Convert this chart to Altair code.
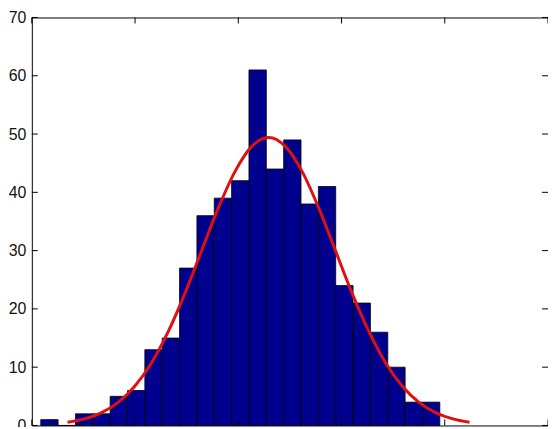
import altair as alt
import pandas as pd

# Histogram counts (23 equal bins)
bin_counts = [1, 0, 2, 2, 5, 6, 13, 15, 27, 36, 39, 42, 61, 44, 49, 38, 41, 24, 21, 16, 10, 4, 4]
bin_start = 0.0865
bin_width = 0.16807

# Fitted curve points
curve_x = [0.346, 0.508, 0.671, 0.833, 0.995, 1.157, 1.320, 1.482, 1.644, 1.806, 1.969, 2.131,
           2.293, 2.455, 2.618, 2.780, 2.942, 3.104, 3.267, 3.429, 3.591, 3.753, 3.916, 4.078, 4.240]
curve_y = [0.55, 1.13, 2.17, 3.93, 6.69, 10.68, 16.04, 22.62, 29.96, 37.29, 43.60, 47.88,
           49.40, 47.88, 43.60, 37.29, 29.96, 22.62, 16.04, 10.68, 6.69, 3.93, 2.17, 1.13, 0.55]

x_ticks = [0, 1, 2, 3, 4, 5]
y_ticks = [0, 10, 20, 30, 40, 50, 60, 70]

W, H = 520, 411
TICK = 6

bars = pd.DataFrame({
    "x0": [bin_start + i * bin_width for i in range(len(bin_counts))],
    "x1": [bin_start + (i + 1) * bin_width for i in range(len(bin_counts))],
    "count": bin_counts,
})
curve = pd.DataFrame({"x": curve_x, "y": curve_y})
xt = pd.DataFrame({"t": x_ticks})
yt = pd.DataFrame({"t": y_ticks})

xscale = alt.Scale(domain=[0, 5], nice=False, zero=False)
yscale = alt.Scale(domain=[0, 70], nice=False)

bar_layer = alt.Chart(bars).mark_bar(
    color="#00008F", stroke="#000000", strokeWidth=0.8
).encode(
    x=alt.X("x0:Q", scale=xscale,
            axis=alt.Axis(labels=False, ticks=False, domain=False, grid=False, title=None,
                          values=x_ticks)),
    x2="x1:Q",
    y=alt.Y("count:Q", scale=yscale,
            axis=alt.Axis(values=y_ticks, ticks=False, tickSize=0, domain=False, grid=False,
                          title=None, labelFont="Liberation Sans", labelFontSize=16,
                          labelColor="#111111", labelPadding=6)),
    y2=alt.datum(0),
)

line_layer = alt.Chart(curve).mark_line(
    color="#E01010", strokeWidth=3, interpolate="monotone"
).encode(
    x=alt.X("x:Q", scale=xscale),
    y=alt.Y("y:Q", scale=yscale),
)

left_ticks = alt.Chart(yt).mark_rule(color="black", strokeWidth=1).encode(
    x=alt.value(0), x2=alt.value(TICK), y=alt.Y("t:Q", scale=yscale))
right_ticks = alt.Chart(yt).mark_rule(color="black", strokeWidth=1).encode(
    x=alt.value(W - TICK), x2=alt.value(W), y=alt.Y("t:Q", scale=yscale))
top_ticks = alt.Chart(xt).mark_rule(color="black", strokeWidth=1).encode(
    y=alt.value(0), y2=alt.value(TICK), x=alt.X("t:Q", scale=xscale))
bottom_ticks = alt.Chart(xt).mark_rule(color="black", strokeWidth=1).encode(
    y=alt.value(H - TICK), y2=alt.value(H), x=alt.X("t:Q", scale=xscale))

chart = alt.layer(
    bar_layer, line_layer, left_ticks, right_ticks, top_ticks, bottom_ticks
).properties(
    width=W, height=H,
    autosize=alt.AutoSizeParams(type="none"),
    padding={"left": 24, "top": 8, "right": 0, "bottom": 0},
    background="white",
).configure_view(
    stroke="black", strokeWidth=1
)

chart.save("out.html", embed_options={"renderer": "svg", "actions": False})
